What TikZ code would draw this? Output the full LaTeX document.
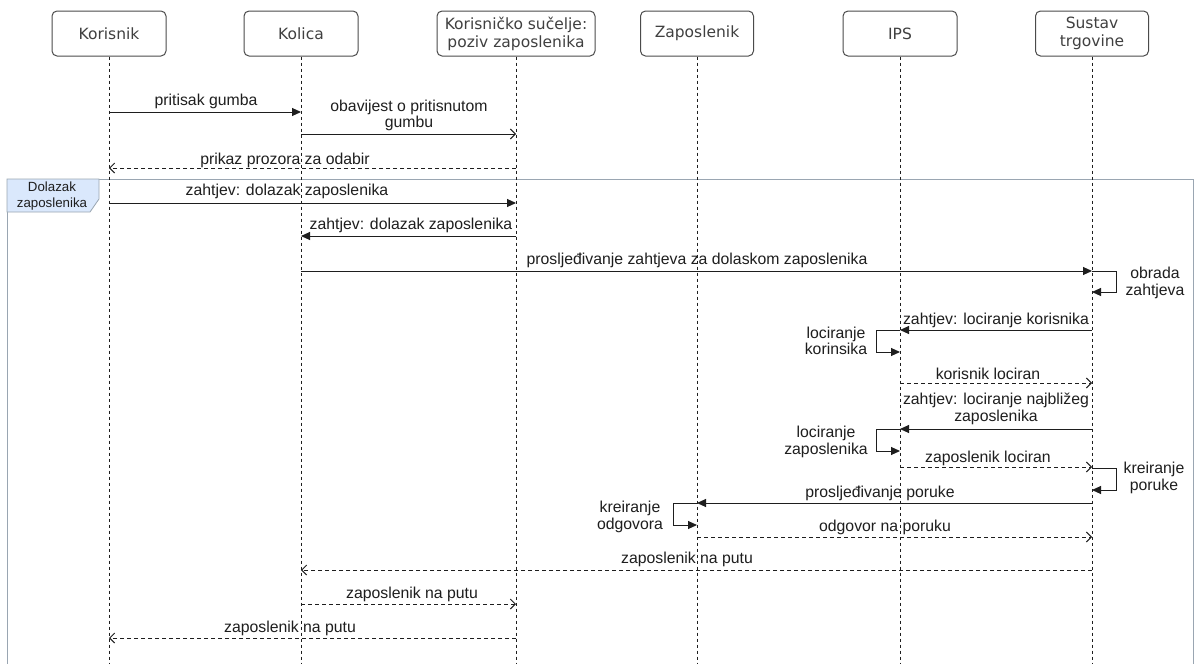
\documentclass[tikz,border=0pt]{standalone}
\usepackage{fontspec}
\usetikzlibrary{arrows.meta}
\newfontfamily\msgfont{Liberation Sans}
\newfontfamily\boxfont{DejaVu Sans}
\definecolor{ink}{HTML}{1E1E1E}
\definecolor{framegray}{HTML}{9AA6B2}
\definecolor{tabfill}{HTML}{DAE8FC}
\tikzset{
  actor/.style={draw=ink!80, line width=1pt, rounded corners=5pt, fill=white,
    minimum height=45pt, inner sep=0pt, align=center,
    font=\boxfont\fontsize{15.5}{18}\selectfont, text=ink!85},
  lifeline/.style={draw=ink, line width=0.8pt, dash pattern=on 3pt off 3pt},
  call/.style={draw=ink, line width=1pt, -{Triangle[length=9pt,width=8pt]}},
  notify/.style={draw=ink, line width=1pt, -{Straight Barb[length=5pt,width=10pt]}},
  reply/.style={draw=ink, line width=1pt, dash pattern=on 4pt off 3pt,
    -{Straight Barb[length=5pt,width=10pt]}},
  selfcall/.style={draw=ink, line width=1pt, -{Triangle[length=9pt,width=8pt]}},
  lbl/.style={inner sep=0pt, align=center, text=ink,
    font=\msgfont\fontsize{15.8}{16.5}\selectfont},
}
\begin{document}
\begin{tikzpicture}[x=1pt, y=-1pt]
\useasboundingbox (0,0) rectangle (1195,664);
\clip (0,0) rectangle (1195,664);

% combined fragment with its pentagon tab
\draw[framegray, line width=1pt, fill=white] (7,179) rectangle (1193,700);
\path[draw=framegray, fill=tabfill, line width=0.8pt]
  (7,179) -- (99,179) -- (99,199) -- (90,212) -- (7,212) -- cycle;
\node[lbl, font=\msgfont\fontsize{13.3}{16}\selectfont] (fraglbl) at (52,196)
  {Dolazak\\zaposlenika};

% participants
\node[actor, minimum width=114pt] (kor) at (109,33.5) {Korisnik};
\node[actor, minimum width=114pt] (kol) at (301,33.5) {Kolica};
\node[actor, minimum width=158pt] (ui)  at (516,33.5) {Korisničko sučelje:\\poziv zaposlenika};
\node[actor, minimum width=113pt] (zap) at (697,33.5) {Zaposlenik};
\node[actor, minimum width=114pt] (ips) at (900,33.5) {IPS};
\node[actor, minimum width=113pt] (sus) at (1092,33.5) {Sustav\\trgovine};

% lifelines
\foreach \p in {kor,kol,ui,zap,ips,sus}{
  \coordinate (\p-end) at (\p |- 0,700);
  \draw[lifeline] (\p.south) -- (\p-end);
}

% messages
\draw[call]   (kor |- 0,112) -- (kol |- 0,112);
\node[lbl] (t1) at (206,101) {pritisak gumba};

\draw[notify] (kol |- 0,134) -- (ui |- 0,134);
\node[lbl] (t2) at (409,115.5) {obavijest o pritisnutom\\gumbu};

\draw[reply]  (ui |- 0,168) -- (kor |- 0,168);
\node[lbl] (t3) at (285,160) {prikaz prozora za odabir};

\draw[call]   (kor |- 0,203) -- (ui |- 0,203);
\node[lbl] (t4) at (287,191) {zahtjev: dolazak zaposlenika};

\draw[call]   (ui |- 0,236) -- (kol |- 0,236);
\node[lbl] (t5) at (411,225) {zahtjev: dolazak zaposlenika};

\draw[call]   (kol |- 0,271) -- (sus |- 0,271);
\node[lbl] (t6) at (697,260) {prosljeđivanje zahtjeva za dolaskom zaposlenika};

\draw[selfcall] (sus |- 0,271) -| ++(24,21) -- (sus |- 0,292);
\node[lbl] (t7) at (1155,283) {obrada\\zahtjeva};

\draw[call]   (sus |- 0,330) -- (ips |- 0,330);
\node[lbl] (t8) at (996,320) {zahtjev: lociranje korisnika};

\draw[selfcall] (ips |- 0,330) -| ++(-24,22) -- (ips |- 0,352);
\node[lbl] (t9) at (836,341) {lociranje\\korinsika};

\draw[reply]  (ips |- 0,383) -- (sus |- 0,383);
\node[lbl] (t10) at (988,374) {korisnik lociran};

\draw[call]   (sus |- 0,429) -- (ips |- 0,429);
\node[lbl] (t11) at (996,409) {zahtjev: lociranje najbližeg\\zaposlenika};

\draw[selfcall] (ips |- 0,429) -| ++(-24,22) -- (ips |- 0,451);
\node[lbl] (t12) at (826,442) {lociranje\\zaposlenika};

\draw[reply]  (ips |- 0,467) -- (sus |- 0,467);
\node[lbl] (t13) at (988,458) {zaposlenik lociran};

\draw[selfcall] (sus |- 0,468) -| ++(24,22) -- (sus |- 0,490);
\node[lbl] (t14) at (1154,478) {kreiranje\\poruke};

\draw[call]   (sus |- 0,503) -- (zap |- 0,503);
\node[lbl] (t15) at (880,493) {prosljeđivanje poruke};

\draw[selfcall] (zap |- 0,503) -| ++(-24,22) -- (zap |- 0,525);
\node[lbl] (t16) at (630,517) {kreiranje\\odgovora};

\draw[reply]  (zap |- 0,537) -- (sus |- 0,537);
\node[lbl] (t17) at (885,527) {odgovor na poruku};

\draw[reply]  (sus |- 0,570) -- (kol |- 0,570);
\node[lbl] (t18) at (687,559) {zaposlenik na putu};

\draw[reply]  (kol |- 0,604) -- (ui |- 0,604);
\node[lbl] (t19) at (412,594) {zaposlenik na putu};

\draw[reply]  (ui |- 0,638) -- (kor |- 0,638);
\node[lbl] (t20) at (290,628) {zaposlenik na putu};
\end{tikzpicture}
\end{document}
